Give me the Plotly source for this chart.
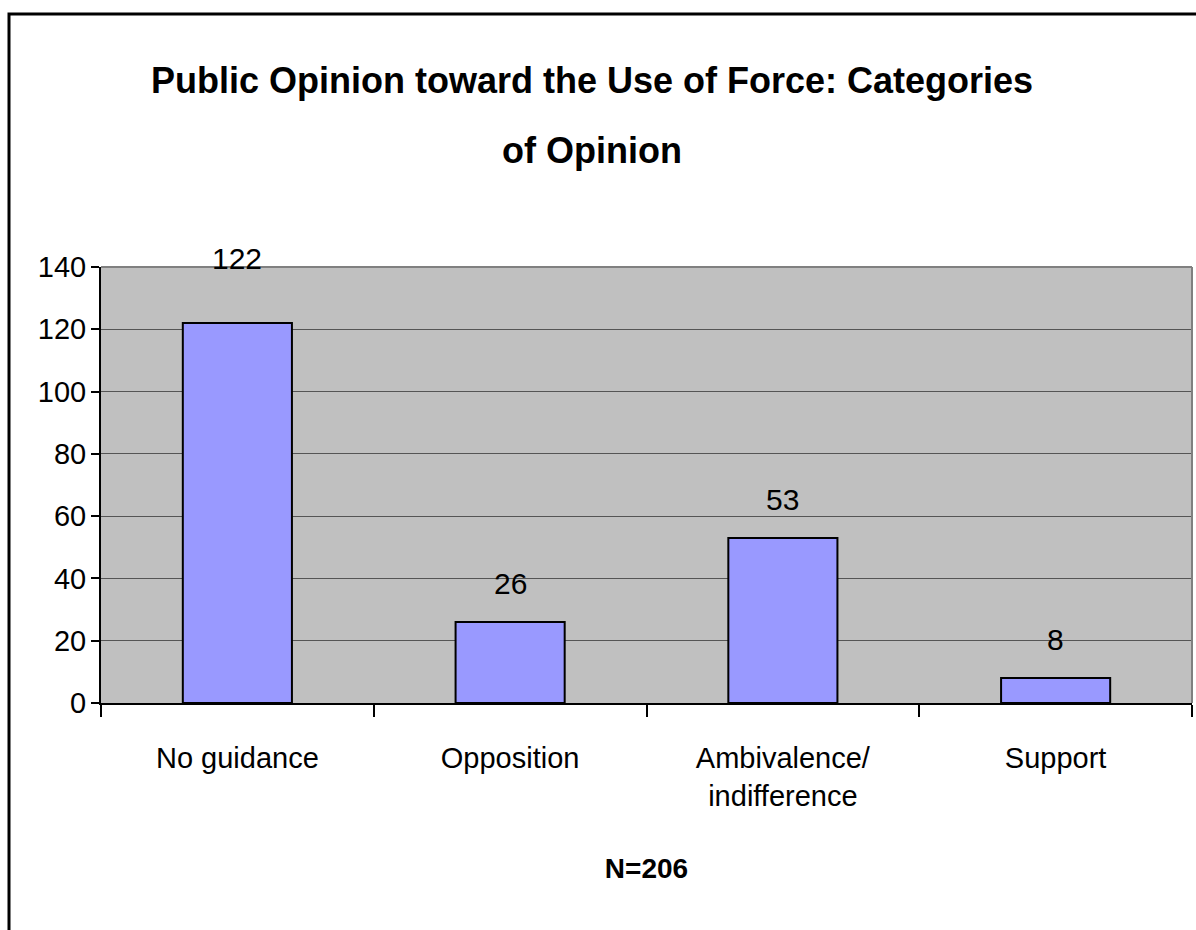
import plotly.graph_objects as go

# Survey categories and counts
categories = ["No guidance", "Opposition", "Ambivalence/<br>indifference", "Support"]
counts = [122, 26, 53, 8]
y_ticks = [0, 20, 40, 60, 80, 100, 120, 140]

title_lines = ["Public Opinion toward the Use of Force: Categories", "of Opinion"]
n_label = "N=206"

FONT = "Liberation Sans, Arial, sans-serif"

W, H = 1196, 930
L, R, T, B = 101, 4, 267, 227
pw, ph = W - L - R, H - T - B


def px_x(p):
    return (p - L) / pw


def px_y(p):
    return (H - B - p) / ph


fig = go.Figure()
fig.add_trace(go.Bar(
    x=categories,
    y=counts,
    marker=dict(color="#9999FF", line=dict(color="black", width=2)),
    hoverinfo="x+y",
))

# value labels above each bar
shifts = [46, 20, 20, 20]
for c, v, s in zip(categories, counts, shifts):
    fig.add_annotation(x=c, y=v, text=str(v), showarrow=False,
                       yanchor="bottom", yshift=s,
                       font=dict(family=FONT, size=30, color="black"))

# two-line title
for line, y_mid in zip(title_lines, [80, 150]):
    fig.add_annotation(xref="paper", yref="paper", x=px_x(592), y=px_y(y_mid),
                       xanchor="center", yanchor="middle", text="<b>" + line + "</b>",
                       showarrow=False,
                       font=dict(family=FONT, size=36, color="black"))

shapes = [
    # outer frame
    dict(type="rect", xref="paper", yref="paper",
         x0=px_x(9), x1=px_x(1215), y0=px_y(950), y1=px_y(14),
         line=dict(color="black", width=3), layer="below"),
    # plot area top and right border
    dict(type="line", xref="paper", yref="paper", x0=0, x1=1, y0=1, y1=1,
         line=dict(color="#808080", width=2)),
    dict(type="line", xref="paper", yref="paper", x0=1, x1=1, y0=0, y1=1,
         line=dict(color="#808080", width=2)),
]

fig.update_layout(
    width=W, height=H,
    margin=dict(l=L, r=R, t=T, b=B, pad=0),
    paper_bgcolor="white",
    plot_bgcolor="#C0C0C0",
    bargap=0.6,
    showlegend=False,
    shapes=shapes,
    font=dict(family=FONT, color="black"),
)

fig.update_xaxes(
    type="category",
    showline=True, linecolor="black", linewidth=2,
    ticks="outside", tickson="boundaries", ticklen=12, tickwidth=1.5, tickcolor="black",
    tickfont=dict(family=FONT, size=29, color="black"),
    ticklabelstandoff=28,
    title=dict(text="<b>" + n_label + "</b>", font=dict(family=FONT, size=28, color="black"),
               standoff=48),
    showgrid=False,
)

fig.update_yaxes(
    range=[0, 140], tickvals=y_ticks,
    showline=True, linecolor="black", linewidth=2,
    ticks="outside", ticklen=8, tickwidth=1.5, tickcolor="black",
    tickfont=dict(family=FONT, size=29, color="black"),
    ticklabelstandoff=-1,
    showgrid=True, gridcolor="#555555", gridwidth=1,
    zeroline=False,
)

fig.write_html("out.html")
